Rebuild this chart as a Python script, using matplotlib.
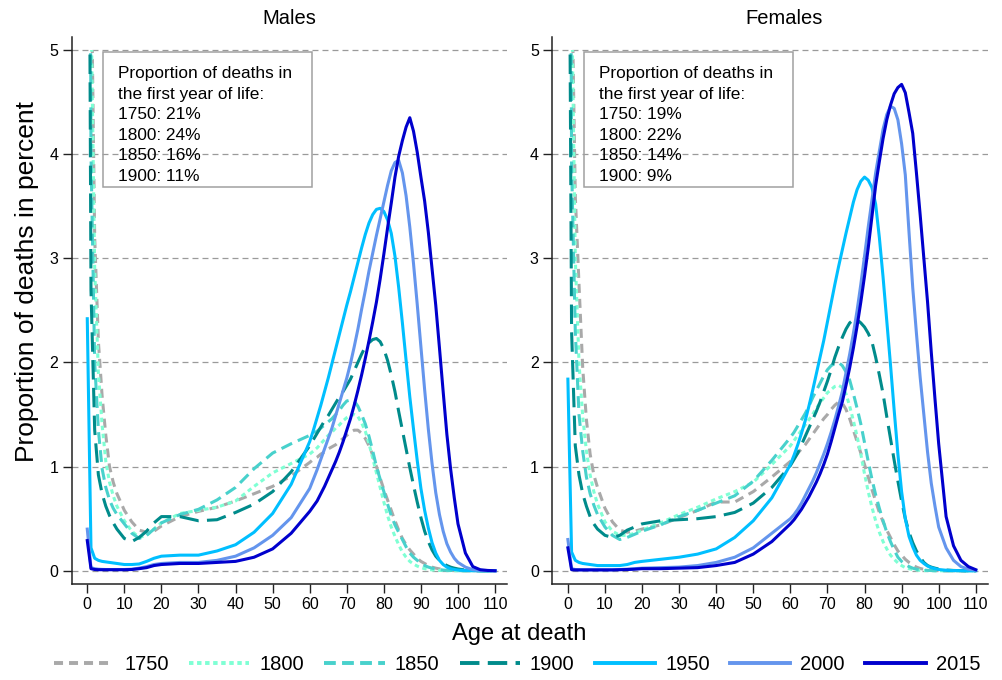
import matplotlib
matplotlib.use("Agg")
import matplotlib.pyplot as plt
from matplotlib.patches import Rectangle
from matplotlib.lines import Line2D

plt.rcParams['font.family'] = ['Liberation Sans', 'DejaVu Sans']
plt.rcParams['lines.scale_dashes'] = False

# ---------------- data ----------------
ages = ([0, 1, 2, 3, 4, 5, 6, 7, 8, 10, 12, 14, 16, 18, 20, 25, 30, 35, 40, 45, 50, 55]
        + list(range(60, 101)) + [102, 104, 106, 108, 110])

years = ['1750', '1800', '1850', '1900', '1950', '2000', '2015']

# Males (percent of deaths at each age)
m1750 = [21, 6.0, 3.2, 2.2, 1.68, 1.3, 1.0, 0.85, 0.74, 0.58, 0.47, 0.39, 0.37, 0.38, 0.43, 0.52, 0.57, 0.61, 0.67, 0.74, 0.81, 0.91,
         1.04, 1.07, 1.09, 1.12, 1.14, 1.17, 1.19, 1.21, 1.24, 1.27, 1.30, 1.33, 1.35, 1.35, 1.32, 1.27, 1.20, 1.11, 1.00, 0.89,
         0.78, 0.68, 0.58, 0.48, 0.39, 0.31, 0.25, 0.20, 0.16, 0.12, 0.09, 0.07, 0.05, 0.035, 0.025, 0.018, 0.012, 0.008, 0.005, 0.003,
         0.002, 0, 0, 0, 0, 0]
m1800 = [24, 5.5, 2.9, 1.9, 1.4, 1.05, 0.85, 0.72, 0.62, 0.48, 0.38, 0.32, 0.34, 0.40, 0.46, 0.55, 0.58, 0.61, 0.67, 0.81, 0.94, 1.03,
         1.12, 1.15, 1.18, 1.22, 1.26, 1.30, 1.33, 1.37, 1.40, 1.44, 1.47, 1.49, 1.50, 1.48, 1.42, 1.34, 1.22, 1.08, 0.94, 0.80,
         0.66, 0.53, 0.42, 0.33, 0.25, 0.18, 0.13, 0.09, 0.065, 0.045, 0.03, 0.02, 0.013, 0.008, 0.005, 0.003, 0.002, 0.001, 0.001, 0,
         0, 0, 0, 0, 0, 0]
m1850 = [16, 4.0, 2.0, 1.35, 0.98, 0.80, 0.68, 0.60, 0.54, 0.45, 0.36, 0.31, 0.34, 0.40, 0.46, 0.54, 0.59, 0.68, 0.80, 0.98, 1.13, 1.22,
         1.30, 1.32, 1.34, 1.37, 1.40, 1.43, 1.46, 1.50, 1.54, 1.59, 1.63, 1.64, 1.63, 1.58, 1.50, 1.41, 1.29, 1.15, 1.00, 0.88,
         0.76, 0.64, 0.53, 0.44, 0.37, 0.30, 0.23, 0.17, 0.13, 0.10, 0.07, 0.05, 0.035, 0.025, 0.017, 0.011, 0.007, 0.004, 0.003, 0.002,
         0.001, 0, 0, 0, 0, 0]
m1900 = [11, 2.7, 1.35, 0.92, 0.74, 0.62, 0.53, 0.46, 0.40, 0.31, 0.28, 0.32, 0.38, 0.46, 0.52, 0.52, 0.48, 0.49, 0.56, 0.64, 0.76, 0.95,
         1.20, 1.26, 1.32, 1.38, 1.44, 1.49, 1.55, 1.61, 1.67, 1.72, 1.78, 1.84, 1.92, 2.00, 2.08, 2.15, 2.19, 2.22, 2.23, 2.20,
         2.13, 2.02, 1.88, 1.72, 1.53, 1.35, 1.17, 0.99, 0.82, 0.66, 0.51, 0.38, 0.28, 0.20, 0.14, 0.10, 0.07, 0.05, 0.035, 0.025,
         0.017, 0.007, 0.003, 0.001, 0, 0]
m1950 = [2.42, 0.22, 0.12, 0.10, 0.09, 0.085, 0.08, 0.075, 0.07, 0.06, 0.06, 0.065, 0.09, 0.12, 0.14, 0.15, 0.15, 0.19, 0.25, 0.37, 0.55, 0.83,
         1.24, 1.35, 1.47, 1.59, 1.72, 1.85, 1.99, 2.13, 2.27, 2.41, 2.55, 2.68, 2.82, 2.96, 3.10, 3.23, 3.34, 3.42, 3.47, 3.48,
         3.45, 3.37, 3.24, 3.02, 2.72, 2.38, 2.02, 1.67, 1.36, 1.06, 0.79, 0.58, 0.41, 0.27, 0.17, 0.10, 0.06, 0.035, 0.02, 0.012,
         0.007, 0.003, 0.001, 0, 0, 0]
m2000 = [0.40, 0.03, 0.02, 0.015, 0.013, 0.012, 0.012, 0.012, 0.012, 0.012, 0.015, 0.025, 0.04, 0.06, 0.07, 0.08, 0.08, 0.10, 0.14, 0.22, 0.34, 0.51,
         0.79, 0.88, 0.97, 1.07, 1.17, 1.27, 1.37, 1.49, 1.61, 1.73, 1.85, 1.99, 2.15, 2.32, 2.51, 2.69, 2.88, 3.05, 3.22, 3.38,
         3.54, 3.70, 3.84, 3.92, 3.94, 3.82, 3.60, 3.30, 2.95, 2.56, 2.15, 1.74, 1.36, 1.03, 0.75, 0.54, 0.38, 0.26, 0.18, 0.12,
         0.08, 0.035, 0.01, 0.003, 0.001, 0]
m2015 = [0.29, 0.02, 0.012, 0.01, 0.01, 0.01, 0.01, 0.01, 0.01, 0.01, 0.012, 0.02, 0.03, 0.05, 0.06, 0.07, 0.07, 0.08, 0.09, 0.13, 0.21, 0.36,
         0.57, 0.62, 0.67, 0.74, 0.81, 0.89, 0.97, 1.05, 1.14, 1.24, 1.35, 1.46, 1.59, 1.73, 1.88, 2.04, 2.21, 2.39, 2.58, 2.80,
         3.04, 3.29, 3.53, 3.78, 3.98, 4.13, 4.26, 4.35, 4.22, 4.02, 3.78, 3.55, 3.25, 2.90, 2.55, 2.14, 1.72, 1.31, 0.98, 0.70,
         0.45, 0.17, 0.04, 0.01, 0.003, 0]

# Females
f1750 = [19, 5.8, 3.6, 2.75, 1.95, 1.45, 1.12, 0.92, 0.80, 0.60, 0.47, 0.39, 0.37, 0.38, 0.40, 0.44, 0.51, 0.58, 0.66, 0.66, 0.76, 0.90,
         1.05, 1.09, 1.13, 1.17, 1.21, 1.26, 1.31, 1.36, 1.41, 1.46, 1.50, 1.55, 1.59, 1.62, 1.61, 1.55, 1.46, 1.35, 1.24, 1.13,
         1.02, 0.90, 0.78, 0.67, 0.56, 0.47, 0.39, 0.32, 0.25, 0.19, 0.15, 0.11, 0.08, 0.055, 0.035, 0.022, 0.014, 0.009, 0.006, 0.004,
         0.002, 0, 0, 0, 0, 0]
f1800 = [22, 5.6, 3.0, 2.0, 1.48, 1.15, 0.92, 0.76, 0.64, 0.47, 0.38, 0.34, 0.34, 0.36, 0.39, 0.46, 0.54, 0.61, 0.69, 0.76, 0.85, 1.02,
         1.20, 1.25, 1.30, 1.35, 1.40, 1.45, 1.50, 1.56, 1.61, 1.66, 1.71, 1.74, 1.77, 1.78, 1.76, 1.70, 1.58, 1.44, 1.29, 1.12,
         0.93, 0.76, 0.61, 0.48, 0.37, 0.28, 0.21, 0.15, 0.11, 0.075, 0.05, 0.03, 0.02, 0.012, 0.007, 0.004, 0.002, 0.001, 0.001, 0,
         0, 0, 0, 0, 0, 0]
f1850 = [14, 3.9, 2.3, 1.5, 1.15, 0.90, 0.74, 0.63, 0.54, 0.42, 0.34, 0.30, 0.32, 0.35, 0.38, 0.44, 0.52, 0.58, 0.65, 0.72, 0.86, 1.06,
         1.28, 1.33, 1.39, 1.45, 1.51, 1.58, 1.66, 1.73, 1.80, 1.87, 1.93, 1.97, 1.99, 2.00, 1.97, 1.91, 1.83, 1.70, 1.56, 1.41,
         1.23, 1.05, 0.88, 0.73, 0.60, 0.48, 0.37, 0.28, 0.20, 0.13, 0.09, 0.06, 0.04, 0.025, 0.015, 0.01, 0.006, 0.004, 0.002, 0.001,
         0.001, 0, 0, 0, 0, 0]
f1900 = [9, 2.3, 1.2, 0.92, 0.74, 0.62, 0.52, 0.45, 0.40, 0.34, 0.32, 0.34, 0.39, 0.42, 0.45, 0.48, 0.49, 0.50, 0.52, 0.56, 0.65, 0.80,
         1.01, 1.07, 1.13, 1.21, 1.29, 1.37, 1.45, 1.53, 1.62, 1.72, 1.82, 1.93, 2.05, 2.15, 2.24, 2.32, 2.38, 2.41, 2.41, 2.38,
         2.34, 2.28, 2.20, 2.05, 1.88, 1.70, 1.48, 1.27, 1.06, 0.86, 0.67, 0.50, 0.37, 0.27, 0.19, 0.13, 0.08, 0.05, 0.035, 0.025,
         0.017, 0.007, 0.003, 0.001, 0, 0]
f1950 = [1.84, 0.18, 0.10, 0.08, 0.07, 0.065, 0.06, 0.055, 0.05, 0.05, 0.05, 0.05, 0.06, 0.08, 0.09, 0.11, 0.13, 0.16, 0.21, 0.32, 0.48, 0.70,
         1.02, 1.11, 1.21, 1.32, 1.44, 1.58, 1.73, 1.89, 2.05, 2.21, 2.39, 2.57, 2.75, 2.92, 3.08, 3.24, 3.39, 3.54, 3.66, 3.74,
         3.78, 3.75, 3.68, 3.52, 3.20, 2.82, 2.40, 1.98, 1.54, 1.12, 0.76, 0.50, 0.33, 0.23, 0.15, 0.10, 0.07, 0.045, 0.03, 0.02,
         0.012, 0.005, 0.002, 0.001, 0, 0]
f2000 = [0.30, 0.02, 0.012, 0.01, 0.01, 0.01, 0.01, 0.01, 0.01, 0.01, 0.01, 0.012, 0.015, 0.02, 0.025, 0.03, 0.035, 0.05, 0.08, 0.13, 0.22, 0.36,
         0.50, 0.54, 0.59, 0.65, 0.72, 0.79, 0.86, 0.94, 1.03, 1.12, 1.22, 1.33, 1.45, 1.58, 1.72, 1.90, 2.08, 2.28, 2.50, 2.75,
         3.02, 3.30, 3.56, 3.82, 4.03, 4.24, 4.38, 4.46, 4.44, 4.33, 4.10, 3.80, 3.25, 2.72, 2.28, 1.86, 1.50, 1.14, 0.84, 0.62,
         0.42, 0.22, 0.10, 0.04, 0.015, 0.005]
f2015 = [0.22, 0.01, 0.008, 0.008, 0.008, 0.008, 0.008, 0.008, 0.008, 0.008, 0.008, 0.01, 0.012, 0.015, 0.02, 0.02, 0.025, 0.03, 0.05, 0.08, 0.16, 0.28,
         0.45, 0.49, 0.54, 0.59, 0.65, 0.71, 0.78, 0.85, 0.93, 1.02, 1.12, 1.24, 1.37, 1.50, 1.62, 1.78, 1.95, 2.14, 2.35, 2.58,
         2.83, 3.10, 3.40, 3.70, 3.93, 4.15, 4.33, 4.47, 4.58, 4.64, 4.67, 4.59, 4.40, 4.20, 3.82, 3.42, 3.00, 2.58, 2.10, 1.65,
         1.22, 0.52, 0.24, 0.10, 0.04, 0.01]

males = [m1750, m1800, m1850, m1900, m1950, m2000, m2015]
females = [f1750, f1800, f1850, f1900, f1950, f2000, f2015]

infant_m = ['21%', '24%', '16%', '11%']
infant_f = ['19%', '22%', '14%', '9%']

x_ticks = [0, 10, 20, 30, 40, 50, 60, 70, 80, 90, 100, 110]
y_ticks = [0, 1, 2, 3, 4, 5]

# ---------------- styles ----------------
colors = ['#A9A9A9', '#7FFFD4', '#48D1CC', '#008B8B', '#00BFFF', '#6495ED', '#0000CD']
dashes = [(0, (6.5, 4.3)), (0, (3.2, 2.6)), (0, (8.5, 4.5)), (0, (14, 6)), '-', '-', '-']
LW = 2.2

W, H = 1003, 680
fig = plt.figure(figsize=(W / 100, H / 100), dpi=100)

XMIN, XMAX = -4.2, 113.3
YMIN, YMAX = -0.13, 5.125
ax_top, ax_bot = 37, 584.3
panels = [(71.7, 507.3, 'Males', 289.5, males, infant_m),
          (552.3, 988.0, 'Females', 784.0, females, infant_f)]

for (x0, x1, title, tx, data, infant) in panels:
    ax = fig.add_axes([x0 / W, 1 - ax_bot / H, (x1 - x0) / W, (ax_bot - ax_top) / H])
    ax.set_xlim(XMIN, XMAX)
    ax.set_ylim(YMIN, YMAX)
    ax.patch.set_alpha(0)
    for y in y_ticks:
        ax.axhline(y, color='#9A9A9A', lw=0.9, ls=(0, (4.3, 2.9)), zorder=0)
    clip = Rectangle((XMIN, YMIN), XMAX - XMIN, 5.0 - YMIN, transform=ax.transData,
                     fc='none', ec='none')
    ax.add_patch(clip)
    for vals, c, d in zip(data, colors, dashes):
        ln, = ax.plot(ages, vals, color=c, lw=LW, ls=d, zorder=2)
        ln.set_clip_path(clip)
    for s in ['top', 'right']:
        ax.spines[s].set_visible(False)
    for s in ['left', 'bottom']:
        ax.spines[s].set_linewidth(1.1)
        ax.spines[s].set_color('#222222')
    ax.set_xticks(x_ticks)
    ax.set_yticks(y_ticks)
    ax.tick_params(axis='both', direction='out', length=6.2, width=1.0, labelsize=11.5,
                   color='#222222', pad=3)
    ax.tick_params(axis='y', pad=3.5)
    # title
    fig.text(tx / W, 1 - 18 / H, title, ha='center', va='center', fontsize=14.5)
    # annotation box
    bx0 = x0 + 31.5
    fig.patches.append(Rectangle((bx0 / W, 1 - 187 / H), 209 / W, 135 / H,
                                 transform=fig.transFigure, fc='none', ec='#A0A0A0', lw=1.1))
    lines = ['Proportion of deaths in', 'the first year of life:'] + \
            [f'{yr}: {p}' for yr, p in zip(years[:4], infant)]
    for i, t in enumerate(lines):
        fig.text((bx0 + 15) / W, 1 - (78 + 20.6 * i) / H, t, ha='left', va='baseline',
                 fontsize=12.4)

fig.text(27 / W, 1 - 281 / H, 'Proportion of deaths in percent', rotation=90,
         ha='center', va='center', fontsize=19)
fig.text(519 / W, 1 - 634 / H, 'Age at death', ha='center', va='center', fontsize=17)

handles = [Line2D([], [], color=c, lw=LW + 0.6, ls=d) for c, d in zip(colors, dashes)]
fig.legend(handles, years, loc='center', bbox_to_anchor=(517 / W, 1 - 665 / H), ncol=7,
           frameon=False, fontsize=14.5, handlelength=3.0, handletextpad=0.5,
           columnspacing=1.0, borderaxespad=0)

fig.savefig('out.png', dpi=100)
